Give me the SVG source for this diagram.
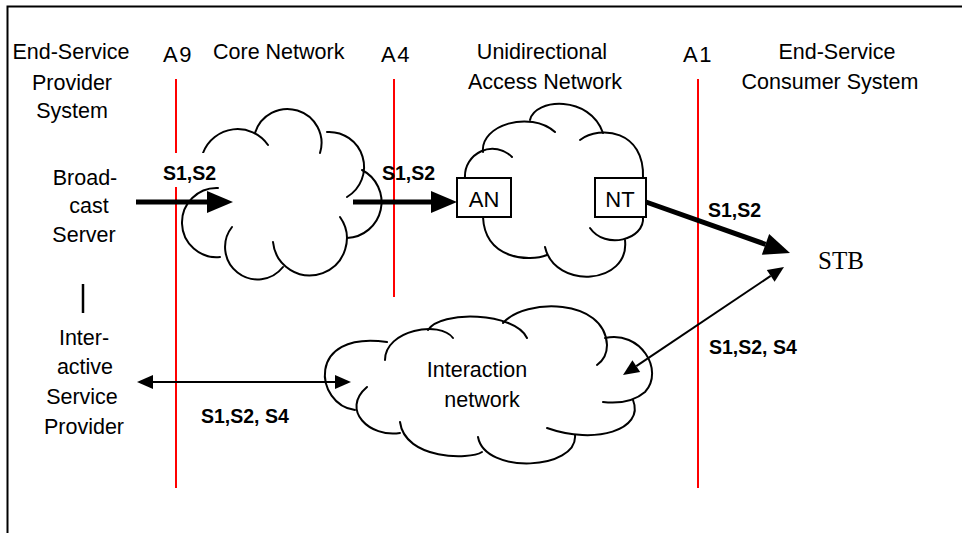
<svg xmlns="http://www.w3.org/2000/svg" width="962" height="533" viewBox="0 0 962 533">
<style>
text{font-family:"Liberation Sans",Arial,sans-serif;font-size:21.5px;fill:#000}
.b{font-weight:bold;font-size:19.5px}
.m{text-anchor:middle}
.a{font-size:22px;letter-spacing:1.5px}
.stb{font-family:"Liberation Serif","Times New Roman",serif;font-size:25px}
.ifl{stroke:#f00;stroke-width:2;fill:none}
.cl{fill:none;stroke:#000;stroke-width:2;stroke-linecap:round}
.box{fill:#fff;stroke:#000;stroke-width:2}
.thick{stroke:#000;stroke-width:5;fill:none}
.thin{stroke:#000;stroke-width:2;fill:none}
.frame{stroke:#000;stroke-width:2;fill:none}
</style>
<defs>
<marker id="hT" markerUnits="userSpaceOnUse" markerWidth="26" markerHeight="22" refX="0" refY="11" orient="auto" overflow="visible"><path d="M0,0 L26,11 L0,22 z" fill="#000"/></marker>
<marker id="ht" markerUnits="userSpaceOnUse" markerWidth="16" markerHeight="14" refX="0" refY="7" orient="auto-start-reverse" overflow="visible"><path d="M0,0 L16,7 L0,14 z" fill="#000"/></marker>
</defs>
<rect width="962" height="533" fill="#fff"/>
<path class="frame" d="M7.5,533 V6.5 H962"/>

<g id="headers">
<text class="m" x="71" y="58.5">End-Service</text>
<text class="m" x="72" y="90">Provider</text>
<text class="m" x="72" y="118">System</text>
<text x="213" y="59">Core Network</text>
<text class="m" x="542" y="58.5">Unidirectional</text>
<text class="m" x="545" y="88.5">Access Network</text>
<text class="m" x="837" y="58.5">End-Service</text>
<text class="m" x="830" y="88.5">Consumer System</text>
</g>

<g id="interfaces">
<path class="ifl" d="M176,79 V488"/>
<path class="ifl" d="M394,79 V297"/>
<path class="ifl" d="M698,79 V488"/>
<text class="m a" x="178" y="62">A9</text>
<text class="m a" x="396" y="62">A4</text>
<text class="m a" x="698" y="62">A1</text>
</g>

<g id="core-network">
<path class="cl" d="M203,153 A37,37 0 0 1 268,145"/>
<path class="cl" d="M255,133 A34,34 0 1 1 320,153"/>
<path class="cl" d="M327,132 A35,35 0 0 1 347,197"/>
<path class="cl" d="M362,170 A36,36 0 0 1 347,238"/>
<path class="cl" d="M340,217 A37,37 0 1 1 273,242"/>
<path class="cl" d="M283,267 A32,32 0 1 1 232,227"/>
<path class="cl" d="M220,257 A34.6,34.6 0 1 1 218,188"/>
</g>

<g id="access-network">
<path class="cl" d="M465,178 A27.5,27.5 0 0 1 512,157"/>
<path class="cl" d="M483,152 C480,125 530,110 555,132"/>
<path class="cl" d="M530,120 C535,98 590,95 603,133"/>
<path class="cl" d="M580,140 C600,125 645,130 643,178"/>
<path class="cl" d="M643,217 C645,240 605,250 590,228"/>
<path class="cl" d="M625,240 C630,285 555,290 545,247"/>
<path class="cl" d="M547,255 C530,262 485,260 483,217"/>
</g>

<g id="interaction-network">
<path class="cl" d="M355,410 C315,405 305,330 387,342"/>
<path class="cl" d="M385,360 C385,330 440,320 453,338"/>
<path class="cl" d="M428,330 C440,310 515,312 527,338"/>
<path class="cl" d="M503,323 C525,298 605,298 607,345 Q607,358 597,365"/>
<path class="cl" d="M605,338 C640,330 665,370 645,392 Q630,405 603,402"/>
<path class="cl" d="M633,400 C645,430 595,445 547,428"/>
<path class="cl" d="M575,435 C578,470 485,475 478,437"/>
<path class="cl" d="M482,452 C470,460 405,460 400,422"/>
<path class="cl" d="M400,433 C370,438 340,410 367,387"/>
<text class="m" x="477" y="377">Interaction</text>
<text class="m" x="482" y="407">network</text>
</g>

<g id="an">
<rect class="box" x="457" y="178" width="54" height="39"/>
<text class="m" x="484" y="207" style="font-size:22px">AN</text>
</g>
<g id="nt">
<rect class="box" x="595" y="178" width="51" height="39"/>
<text class="m" x="620" y="207" style="font-size:22px">NT</text>
</g>

<g id="broadcast-server">
<text class="m" x="85" y="185">Broad-</text>
<text class="m" x="89" y="213">cast</text>
<text class="m" x="84" y="242">Server</text>
</g>

<g id="interactive-service-provider">
<path class="thin" d="M83,284 V313" style="stroke-width:2.5"/>
<text class="m" x="84" y="345">Inter-</text>
<text class="m" x="85" y="374">active</text>
<text class="m" x="82" y="404">Service</text>
<text class="m" x="84" y="434">Provider</text>
</g>

<g id="stb">
<text class="stb" x="818" y="269">STB</text>
</g>

<g id="connectors">
<path class="thick" d="M136,202 H207" marker-end="url(#hT)"/>
<path class="thick" d="M353,202 H431" marker-end="url(#hT)"/>
<path class="thick" d="M646,202 L765.5,244.3" marker-end="url(#hT)"/>
<path class="thin" d="M153,382 H335" marker-start="url(#ht)" marker-end="url(#ht)"/>
<path class="thin" d="M636.3,366.1 L770.7,275.9" marker-start="url(#ht)" marker-end="url(#ht)"/>
</g>

<g id="labels">
<rect x="158" y="153" width="62" height="34" fill="#fff"/>
<text class="b" x="163" y="180">S1,S2</text>
<text class="b" x="382" y="180">S1,S2</text>
<text class="b" x="708" y="216.5">S1,S2</text>
<text class="b" x="709" y="354">S1,S2, S4</text>
<text class="b" x="201" y="423">S1,S2, S4</text>
</g>
</svg>
